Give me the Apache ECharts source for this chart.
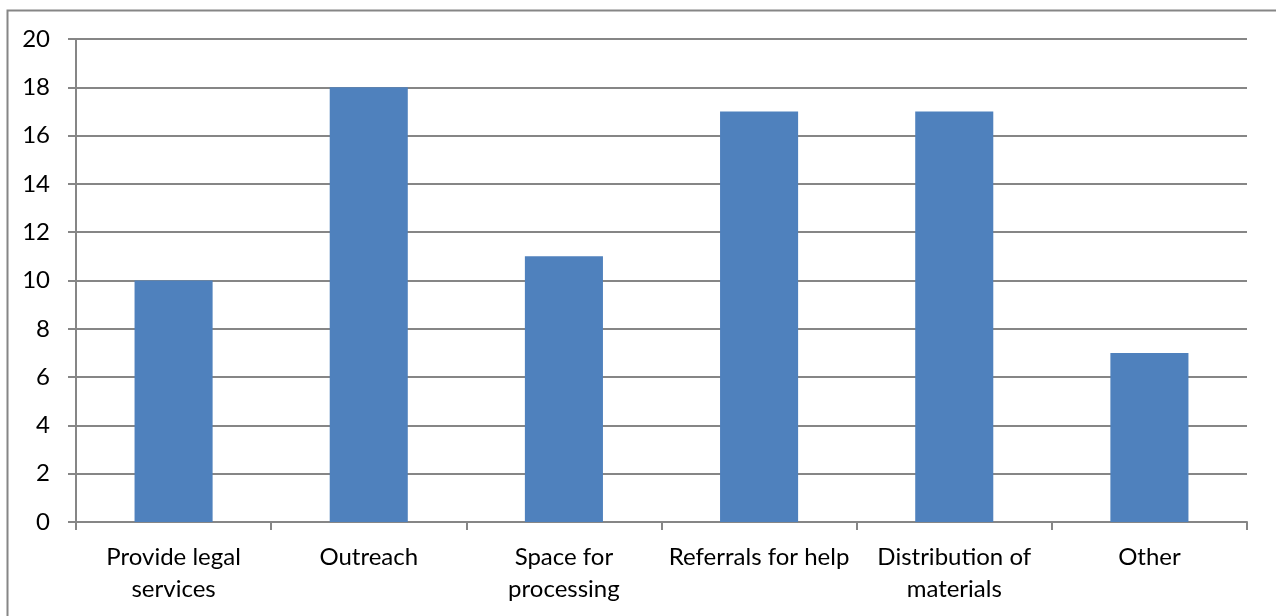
<!DOCTYPE html>
<html><head><meta charset="utf-8">
<script src="https://cdn.jsdelivr.net/npm/echarts@6/dist/echarts.min.js"></script>
<style>html,body{margin:0;padding:0;background:#fff}#c{width:1276px;height:616px}</style>
</head><body><div id="c"></div>
<script>
var categories = ['Provide legal\nservices', 'Outreach', 'Space for\nprocessing', 'Referrals for help', 'Distribution of\nmaterials', 'Other'];
var values = [10, 18, 11, 17, 17, 7];
var yTicks = { min: 0, max: 20, interval: 2 };

var chart = echarts.init(document.getElementById('c'));
chart.setOption({
  animation: false,
  backgroundColor: '#fff',
  graphic: [{
    type: 'rect', shape: { x: 7.5, y: 10.5, width: 1300, height: 700 },
    style: { fill: 'none', stroke: '#868686', lineWidth: 2 }, silent: true
  }],
  grid: { left: 76, right: 29, top: 39, bottom: 94 },
  xAxis: {
    type: 'category', data: categories,
    axisLine: { lineStyle: { color: '#868686', width: 2 } },
    axisTick: { show: true, alignWithLabel: false, length: 8, lineStyle: { color: '#868686', width: 2 } },
    axisLabel: { color: '#000', fontFamily: 'Lato', fontSize: 24, lineHeight: 32, margin: 19, interval: 0 }
  },
  yAxis: {
    type: 'value', min: yTicks.min, max: yTicks.max, interval: yTicks.interval,
    axisLine: { show: true, lineStyle: { color: '#868686', width: 2 } },
    axisTick: { show: true, length: 8, lineStyle: { color: '#868686', width: 2 } },
    axisLabel: { color: '#000', fontFamily: 'Lato', fontSize: 24, margin: 26 },
    splitLine: { lineStyle: { color: '#868686', width: 2 } }
  },
  series: [{
    type: 'bar', data: values, barWidth: '40%',
    itemStyle: { color: '#4F81BD' }
  }]
});
</script></body></html>
